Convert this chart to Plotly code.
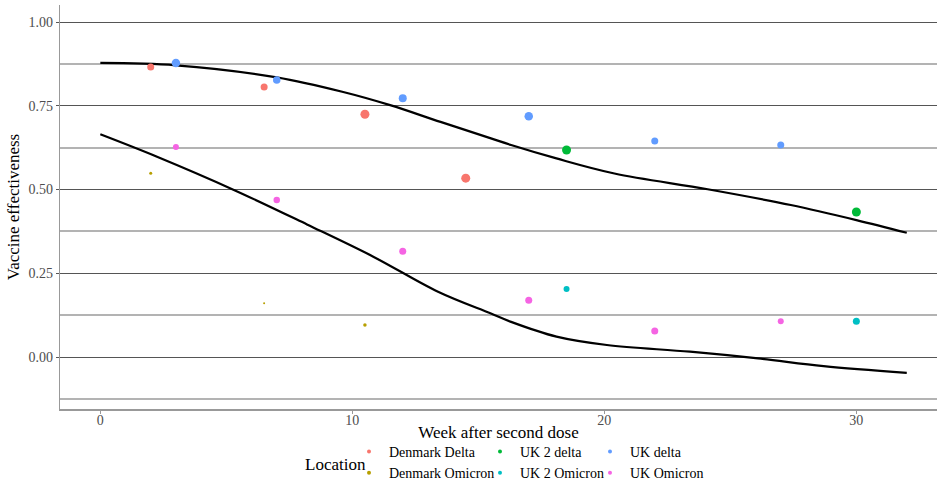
import plotly.graph_objects as go

# ---- data ----
locations = ["Denmark Delta", "Denmark Omicron", "UK 2 delta", "UK 2 Omicron", "UK delta", "UK Omicron"]
colors = ["#F8766D", "#B79F00", "#00BA38", "#00BFC4", "#619CFF", "#F564E3"]

dk_delta_week = [2, 6.5, 10.5, 14.5]
dk_delta_ve = [0.866, 0.806, 0.725, 0.534]
dk_delta_n = [7, 7, 9, 9]

dk_omi_week = [2, 6.5, 10.5]
dk_omi_ve = [0.549, 0.161, 0.096]
dk_omi_n = [3, 2, 3.5]

uk2_delta_week = [18.5, 30]
uk2_delta_ve = [0.618, 0.433]
uk2_delta_n = [9, 9]

uk2_omi_week = [18.5, 30]
uk2_omi_ve = [0.203, 0.107]
uk2_omi_n = [6, 7]

uk_delta_week = [3, 7, 12, 17, 22, 27]
uk_delta_ve = [0.878, 0.827, 0.773, 0.719, 0.645, 0.633]
uk_delta_n = [8.5, 7.5, 8, 8.5, 7, 7]

uk_omi_week = [3, 7, 12, 17, 22, 27]
uk_omi_ve = [0.627, 0.469, 0.316, 0.170, 0.078, 0.107]
uk_omi_n = [6, 6.5, 7, 7, 7, 6]

# smoothed fits
delta_fit_week = [0, 3, 7, 9.6, 11.5, 13.5, 15.5, 16.3, 18.1, 20.4, 24.1, 27.4, 30, 32]
delta_fit_ve = [0.878, 0.871, 0.835, 0.792, 0.752, 0.702, 0.653, 0.633, 0.593, 0.548, 0.501, 0.454, 0.409, 0.371]
omi_fit_week = [0, 2.25, 5.3, 8.2, 10.85, 13.4, 15.5, 16.3, 18.1, 20.1, 23.4, 26.1, 28.7, 32]
omi_fit_ve = [0.665, 0.598, 0.499, 0.396, 0.299, 0.195, 0.130, 0.105, 0.061, 0.036, 0.016, -0.004, -0.027, -0.047]

series = [
    (dk_delta_week, dk_delta_ve, dk_delta_n),
    (dk_omi_week, dk_omi_ve, dk_omi_n),
    (uk2_delta_week, uk2_delta_ve, uk2_delta_n),
    (uk2_omi_week, uk2_omi_ve, uk2_omi_n),
    (uk_delta_week, uk_delta_ve, uk_delta_n),
    (uk_omi_week, uk_omi_ve, uk_omi_n),
]

FONT = "Liberation Serif"
fig = go.Figure()

for fx, fy in [(delta_fit_week, delta_fit_ve), (omi_fit_week, omi_fit_ve)]:
    fig.add_trace(go.Scatter(x=fx, y=fy, mode="lines", line=dict(color="black", width=2.2, shape="spline", smoothing=1.0),
                             showlegend=False, hoverinfo="skip"))

legend_ids = ["legend", "legend", "legend2", "legend2", "legend3", "legend3"]
for (wx, wy, wn), name, col, lg in zip(series, locations, colors, legend_ids):
    fig.add_trace(go.Scatter(x=wx, y=wy, mode="markers", name=name,
                             marker=dict(color=col, size=wn, opacity=1, line=dict(width=0)),
                             showlegend=False))
    fig.add_trace(go.Scatter(x=[None], y=[None], mode="markers", name=name,
                             marker=dict(color=col, size=4, opacity=1, line=dict(width=0)),
                             legend=lg, showlegend=True))

leg_common = dict(orientation="v", bgcolor="rgba(0,0,0,0)", font=dict(family=FONT, size=14, color="black"),
                  yanchor="bottom", y=(409 - 489) / 404, xanchor="left",
                  itemwidth=30, tracegroupgap=0)
fig.update_layout(
    width=939, height=480,
    margin=dict(l=60, r=2, t=5, b=71, autoexpand=False),
    plot_bgcolor="white", paper_bgcolor="white",
    font=dict(family=FONT, color="black"),
    xaxis=dict(range=[-1.6, 33.2], tickvals=[0, 10, 20, 30], ticktext=["0", "10", "20", "30"],
               showgrid=False, zeroline=False, showline=True, linecolor="#999999", linewidth=1.5,
               ticks="outside", ticklen=3, tickcolor="#999999", ticklabelstandoff=-6,
               tickfont=dict(family=FONT, size=14, color="#4d4d4d"),
               title=dict(text="Week after second dose", font=dict(family=FONT, size=17, color="black"), standoff=0)),
    yaxis=dict(range=[-0.155, 1.051], tickvals=[0, 0.25, 0.5, 0.75, 1.0],
               ticktext=["0.00", "0.25", "0.50", "0.75", "1.00"],
               showgrid=True, gridcolor="#555555", gridwidth=1,
               minor=dict(tickvals=[-0.125, 0.125, 0.375, 0.625, 0.875], showgrid=True, gridcolor="#b3b3b3", gridwidth=1.6, ticks=""),
               zeroline=False, showline=True, linecolor="#999999", linewidth=1.2,
               ticks="outside", ticklen=3, tickcolor="#555555",
               tickfont=dict(family=FONT, size=14, color="#4d4d4d"),
               title=dict(text="Vaccine effectiveness", font=dict(family=FONT, size=17, color="black"), standoff=4)),
    legend=dict(**{**leg_common, "x": (349 - 60) / 877}),
    legend2=dict(**{**leg_common, "x": (480 - 60) / 877}),
    legend3=dict(**{**leg_common, "x": (590 - 60) / 877}),
    annotations=[dict(text="Location", xref="paper", yref="paper", x=(303 - 60) / 877, y=-0.138, xanchor="left", yanchor="middle",
                      showarrow=False, font=dict(family=FONT, size=17, color="black"))],
)

fig.write_html("out.html", config={"displayModeBar": False}, post_script="document.body.style.margin='0';")
